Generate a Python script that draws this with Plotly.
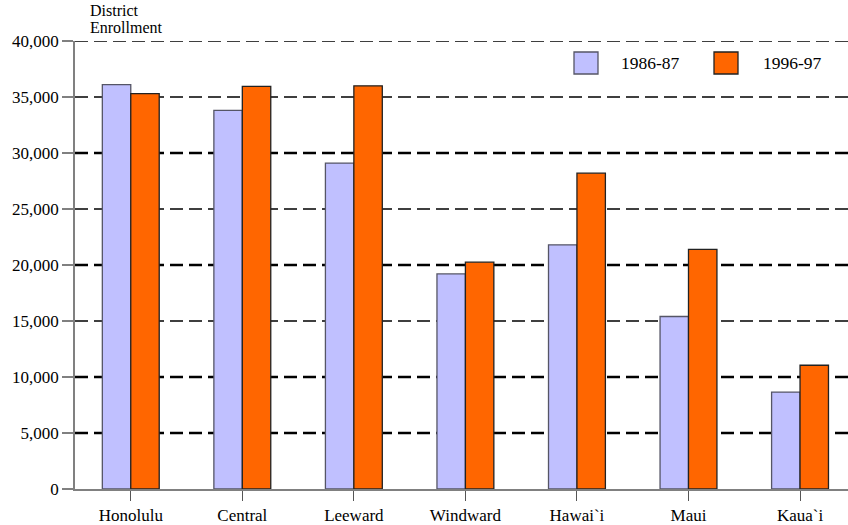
import plotly.graph_objects as go

districts = ["Honolulu", "Central", "Leeward", "Windward", "Hawai`i", "Maui", "Kaua`i"]
series_names = ["1986-87", "1996-97"]
enroll_1986 = [36100, 33800, 29100, 19200, 21800, 15400, 8650]
enroll_1996 = [35300, 35950, 36000, 20250, 28200, 21400, 11050]
y_ticks = [0, 5000, 10000, 15000, 20000, 25000, 30000, 35000, 40000]
grid_heavy = [5000, 10000, 20000, 30000]
title_lines = ["District", "Enrollment"]

colors = ["#c0c0ff", "#ff6600"]
outline = ["#555566", "#222222"]
FONT = "Liberation Serif"

W, H = 848, 525
ML, MR, MT, MB = 75, 0, 41, 36
PW, PH = W - ML - MR, H - MT - MB

def px_x(p):
    return (p - ML) / PW

def px_y(p):
    return (H - MB - p) / PH

fig = go.Figure()
for name, vals, c, oc in zip(series_names, [enroll_1986, enroll_1996], colors, outline):
    fig.add_trace(go.Bar(
        x=districts, y=vals, name=name,
        marker=dict(color=c, line=dict(color=oc, width=1.3)),
        showlegend=False,
    ))

shapes = []
for v in y_ticks[1:]:
    shapes.append(dict(
        type="line", xref="paper", yref="y", x0=0, x1=1, y0=v, y1=v,
        line=dict(color="black", width=2.6 if v in grid_heavy else 1.3, dash="13px,6px"),
        layer="below",
    ))

annotations = []
for line, cy in zip(title_lines, [11, 28]):
    annotations.append(dict(
        text=line, xref="paper", yref="paper",
        x=px_x(88), y=px_y(cy), xanchor="left", yanchor="middle", align="left",
        showarrow=False, font=dict(family=FONT, size=16, color="black"),
    ))

leg_sq = [(574, 598), (714, 738)]
leg_txt = [619, 761]
for (x0, x1), tx, c, oc, name in zip(leg_sq, leg_txt, colors, outline, series_names):
    shapes.append(dict(
        type="rect", xref="paper", yref="paper",
        x0=px_x(x0), x1=px_x(x1), y0=px_y(74), y1=px_y(52),
        fillcolor=c, line=dict(color=oc, width=1.3), layer="above",
    ))
    annotations.append(dict(
        text=name, xref="paper", yref="paper", x=px_x(tx), y=px_y(63),
        xanchor="left", yanchor="middle", showarrow=False,
        font=dict(family=FONT, size=17.5, color="black"),
    ))

fig.update_layout(
    width=W, height=H,
    margin=dict(l=ML, r=MR, t=MT, b=MB),
    paper_bgcolor="white", plot_bgcolor="white",
    barmode="group", bargap=0.49, bargroupgap=0,
    shapes=shapes, annotations=annotations,
    font=dict(family=FONT, size=17, color="black"),
)
fig.update_xaxes(
    type="category", range=[-0.5, 6.43],
    showgrid=False, showline=True, linecolor="#808080", linewidth=1.5,
    ticks="outside", ticklen=10, tickcolor="#555555", tickwidth=1.3,
    tickfont=dict(family=FONT, size=17, color="black"),
)
fig.update_yaxes(
    range=[0, 40000], tickvals=y_ticks,
    ticktext=[f"{v:,}" for v in y_ticks],
    showgrid=False, zeroline=False,
    showline=True, linecolor="#808080", linewidth=1.5,
    ticks="outside", ticklen=11, tickcolor="#808080", tickwidth=1.5,
    tickfont=dict(family=FONT, size=17, color="black"),
)

fig.write_html("out.html")
